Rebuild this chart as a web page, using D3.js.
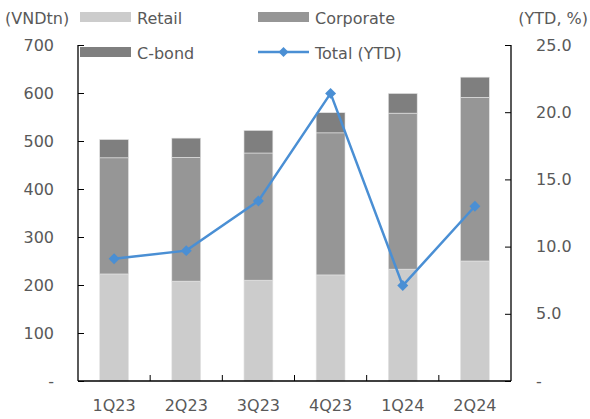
<!DOCTYPE html>
<html>
<head>
<meta charset="utf-8">
<script src="https://cdn.jsdelivr.net/npm/d3@7"></script>
<style>
  body { margin: 0; background: #fff; }
  svg { font-family: "DejaVu Sans", sans-serif; }
</style>
</head>
<body>
<div id="chart"></div>
<script>
const categories = ["1Q23", "2Q23", "3Q23", "4Q23", "1Q24", "2Q24"];
const retail = [223, 208, 210, 221, 233, 250];
const corporate = [242, 258, 265, 296, 325, 341];
const cbond = [38, 40, 47, 42, 41, 42];
const totalYtd = [9.1, 9.7, 13.4, 21.4, 7.1, 13.0];
const leftTicks = [0, 100, 200, 300, 400, 500, 600, 700];
const rightTicks = [0, 5, 10, 15, 20, 25];

const width = 590, height = 419;
const marginLeft = 78, marginRight = 79, marginTop = 45, marginBottom = 38;

const svg = d3.select("#chart").append("svg")
  .attr("width", width)
  .attr("height", height);

const x = d3.scaleBand()
  .domain(categories)
  .range([marginLeft, width - marginRight])
  .paddingInner(0.6)
  .paddingOuter(0.3);

const yL = d3.scaleLinear().domain([0, 700]).range([height - marginBottom, marginTop]);
const yR = d3.scaleLinear().domain([0, 25]).range([height - marginBottom, marginTop]);

const seriesKeys = ["retail", "corporate", "cbond"];
const colors = { retail: "#cccccc", corporate: "#969696", cbond: "#7f7f7f" };
const rows = categories.map((c, i) => ({ cat: c, retail: retail[i], corporate: corporate[i], cbond: cbond[i] }));
const stacked = d3.stack().keys(seriesKeys)(rows);

svg.append("g").selectAll("g")
  .data(stacked)
  .join("g")
  .attr("fill", d => colors[d.key])
  .selectAll("rect")
  .data(d => d)
  .join("rect")
  .attr("x", d => x(d.data.cat))
  .attr("width", x.bandwidth())
  .attr("y", d => yL(d[1]))
  .attr("height", d => yL(d[0]) - yL(d[1]))
  .attr("stroke", "#e4e4e4")
  .attr("stroke-width", 0.6);

// axes
const textColor = "#595959";
const axL = svg.append("g")
  .attr("transform", `translate(${marginLeft},0)`)
  .call(d3.axisLeft(yL).tickValues(leftTicks).tickSize(-6).tickPadding(24)
    .tickFormat(d => d === 0 ? "-" : d));
const axR = svg.append("g")
  .attr("transform", `translate(${width - marginRight},0)`)
  .call(d3.axisRight(yR).tickValues(rightTicks).tickSize(-6).tickPadding(25)
    .tickFormat(d => d === 0 ? "-" : d3.format(".1f")(d)));
const axB = svg.append("g")
  .attr("transform", `translate(0,${height - marginBottom})`)
  .call(d3.axisBottom(x).tickSize(0).tickPadding(19));

[axL, axR, axB].forEach(a => {
  a.select(".domain").attr("stroke", "#000").attr("stroke-width", 1.3);
  a.selectAll(".tick line").attr("stroke", "#000");
  a.selectAll("text").attr("fill", textColor).attr("font-size", 16)
    .attr("font-family", "\"DejaVu Sans\", sans-serif");
});
axL.selectAll("text").attr("text-anchor", "end");
axL.select(".domain").attr("d", `M0,${yL(0)}V${yL(700)}`);
axR.select(".domain").attr("d", `M0,${yR(0)}V${yR(25)}`);
axB.select(".domain").attr("d", `M${marginLeft},0H${width - marginRight}`);

// category boundary ticks on the bottom axis
const step = x.step();
axB.append("g").selectAll("line")
  .data(categories.slice(1))
  .join("line")
  .attr("x1", d => x(d) - step * x.paddingInner() / 2)
  .attr("x2", d => x(d) - step * x.paddingInner() / 2)
  .attr("y1", 0).attr("y2", -6)
  .attr("stroke", "#000");

// line
const lineColor = "#4a8fd4";
const line = d3.line()
  .x((d, i) => x(categories[i]) + x.bandwidth() / 2)
  .y(d => yR(d));
svg.append("path")
  .datum(totalYtd)
  .attr("fill", "none")
  .attr("stroke", lineColor)
  .attr("stroke-width", 2.5)
  .attr("d", line);

svg.append("g").selectAll("path")
  .data(totalYtd)
  .join("path")
  .attr("transform", (d, i) => `translate(${x(categories[i]) + x.bandwidth() / 2},${yR(d)}) rotate(45)`)
  .attr("d", d3.symbol().type(d3.symbolSquare).size(60))
  .attr("fill", lineColor);

// legend and axis titles
const font = 16;
svg.append("text").attr("x", 5).attr("y", 24).text("(VNDtn)")
  .attr("fill", textColor).attr("font-size", font);
svg.append("text").attr("x", 588).attr("y", 24).attr("text-anchor", "end").text("(YTD, %)")
  .attr("fill", textColor).attr("font-size", font);

const legendItems = [
  { label: "Retail", key: "retail", x: 80, y: 17 },
  { label: "Corporate", key: "corporate", x: 258, y: 17 },
  { label: "C-bond", key: "cbond", x: 80, y: 52 },
  { label: "Total (YTD)", key: "total", x: 258, y: 52 }
];
const lg = svg.append("g").selectAll("g")
  .data(legendItems)
  .join("g")
  .attr("transform", d => `translate(${d.x},${d.y})`);
lg.filter(d => d.key !== "total").append("rect")
  .attr("x", 0).attr("y", -5).attr("width", 51).attr("height", 10)
  .attr("fill", d => colors[d.key]);
const lt = lg.filter(d => d.key === "total");
lt.append("line").attr("x1", 0).attr("x2", 51).attr("y1", 0).attr("y2", 0)
  .attr("stroke", lineColor).attr("stroke-width", 2.5);
lt.append("path").attr("transform", "translate(25.5,0) rotate(45)")
  .attr("d", d3.symbol().type(d3.symbolSquare).size(50)).attr("fill", lineColor);
lg.append("text").attr("x", 57).attr("y", 7).text(d => d.label)
  .attr("fill", textColor).attr("font-size", font);
</script>
</body>
</html>
